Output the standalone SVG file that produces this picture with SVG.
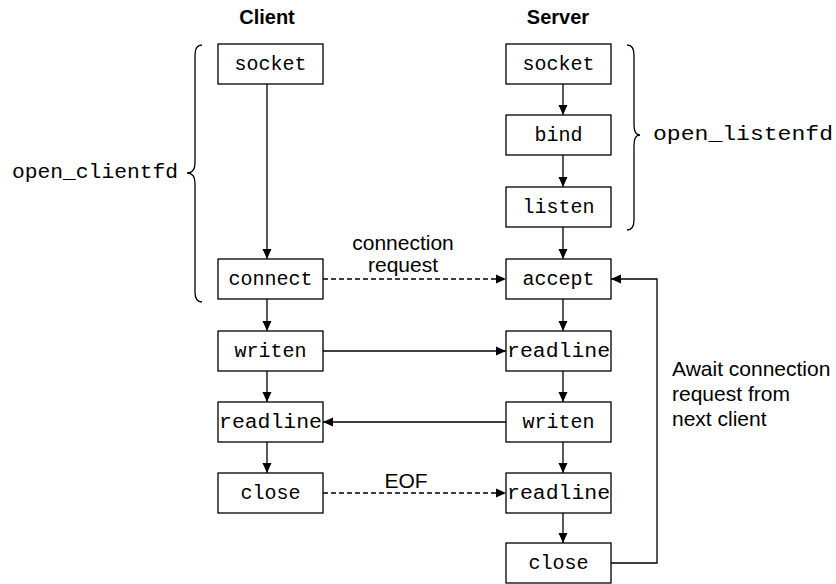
<svg xmlns="http://www.w3.org/2000/svg" width="836" height="584" viewBox="0 0 836 584">
<style>
.box{fill:#fff;stroke:#000;stroke-width:1.3}
.mono{font-family:"Liberation Mono","Courier New",monospace;font-size:20px;fill:#000}
.sans{font-family:"Liberation Sans",Arial,sans-serif;font-size:21px;fill:#000}
.hdr{font-family:"Liberation Sans",Arial,sans-serif;font-size:20px;font-weight:bold;fill:#000}
.ln{fill:none;stroke:#000;stroke-width:1.3}
.dash{stroke-dasharray:5 3}
</style>
<defs>
<marker id="ah" viewBox="0 0 10 10" refX="10" refY="5" markerWidth="10" markerHeight="10" markerUnits="userSpaceOnUse" orient="auto">
<path d="M0,0.5 L10,5 L0,9.5 Z" fill="#000"/>
</marker>
</defs>
<rect width="836" height="584" fill="#fff"/>
<text class="hdr" x="267" y="24" text-anchor="middle">Client</text>
<text class="hdr" x="558" y="24" text-anchor="middle">Server</text>

<g id="connectors">
<line class="ln" x1="267" y1="84" x2="267" y2="259" marker-end="url(#ah)"/>
<line class="ln" x1="267" y1="299" x2="267" y2="331" marker-end="url(#ah)"/>
<line class="ln" x1="267" y1="371" x2="267" y2="402" marker-end="url(#ah)"/>
<line class="ln" x1="267" y1="442" x2="267" y2="473" marker-end="url(#ah)"/>
<line class="ln" x1="563" y1="84" x2="563" y2="115" marker-end="url(#ah)"/>
<line class="ln" x1="563" y1="155" x2="563" y2="187" marker-end="url(#ah)"/>
<line class="ln" x1="563" y1="227" x2="563" y2="259" marker-end="url(#ah)"/>
<line class="ln" x1="563" y1="299" x2="563" y2="331" marker-end="url(#ah)"/>
<line class="ln" x1="563" y1="371" x2="563" y2="402" marker-end="url(#ah)"/>
<line class="ln" x1="563" y1="442" x2="563" y2="473" marker-end="url(#ah)"/>
<line class="ln" x1="563" y1="513" x2="563" y2="543" marker-end="url(#ah)"/>
<line class="ln dash" x1="323" y1="279" x2="506" y2="279" marker-end="url(#ah)"/>
<line class="ln" x1="323" y1="351" x2="506" y2="351" marker-end="url(#ah)"/>
<line class="ln" x1="506" y1="422" x2="323" y2="422" marker-end="url(#ah)"/>
<line class="ln dash" x1="323" y1="493" x2="506" y2="493" marker-end="url(#ah)"/>
<polyline class="ln" points="611,563 657,563 657,279 611,279" marker-end="url(#ah)"/>
<text class="sans" x="403" y="250" text-anchor="middle">connection</text>
<text class="sans" x="403" y="272" text-anchor="middle">request</text>
<text class="sans" x="406" y="488" text-anchor="middle">EOF</text>
<text class="sans" x="672" y="376">Await connection</text>
<text class="sans" x="672" y="401">request from</text>
<text class="sans" x="672" y="426">next client</text>
</g>

<g id="brace-client">
<path class="ln" d="M202,45 Q195,45 195,55 L195,163 Q195,173 187,173 Q195,173 195,183 L195,292 Q195,302 202,302"/>
<text class="mono" x="12" y="178" textLength="166" lengthAdjust="spacingAndGlyphs">open_clientfd</text>
</g>
<g id="brace-server">
<path class="ln" d="M627,45 Q634,45 634,55 L634,125 Q634,135 640,135 Q634,135 634,145 L634,220 Q634,230 627,230"/>
<text class="mono" x="653" y="140" textLength="180" lengthAdjust="spacingAndGlyphs">open_listenfd</text>
</g>

<g id="c-socket"><rect class="box" x="218" y="44" width="105" height="40"/><text class="mono" x="270.5" y="70" text-anchor="middle">socket</text></g>
<g id="c-connect"><rect class="box" x="218" y="259" width="105" height="40"/><text class="mono" x="270.5" y="285" text-anchor="middle">connect</text></g>
<g id="c-writen"><rect class="box" x="218" y="331" width="105" height="40"/><text class="mono" x="270.5" y="357" text-anchor="middle">writen</text></g>
<g id="c-readline"><rect class="box" x="218" y="402" width="105" height="40"/><text class="mono" x="270.5" y="428" text-anchor="middle" textLength="103" lengthAdjust="spacingAndGlyphs">readline</text></g>
<g id="c-close"><rect class="box" x="218" y="473" width="105" height="40"/><text class="mono" x="270.5" y="499" text-anchor="middle">close</text></g>

<g id="s-socket"><rect class="box" x="506" y="44" width="105" height="40"/><text class="mono" x="558.5" y="70" text-anchor="middle">socket</text></g>
<g id="s-bind"><rect class="box" x="506" y="115" width="105" height="40"/><text class="mono" x="558.5" y="141" text-anchor="middle">bind</text></g>
<g id="s-listen"><rect class="box" x="506" y="187" width="105" height="40"/><text class="mono" x="558.5" y="213" text-anchor="middle">listen</text></g>
<g id="s-accept"><rect class="box" x="506" y="259" width="105" height="40"/><text class="mono" x="558.5" y="285" text-anchor="middle">accept</text></g>
<g id="s-readline1"><rect class="box" x="506" y="331" width="105" height="40"/><text class="mono" x="558.5" y="357" text-anchor="middle" textLength="103" lengthAdjust="spacingAndGlyphs">readline</text></g>
<g id="s-writen"><rect class="box" x="506" y="402" width="105" height="40"/><text class="mono" x="558.5" y="428" text-anchor="middle">writen</text></g>
<g id="s-readline2"><rect class="box" x="506" y="473" width="105" height="40"/><text class="mono" x="558.5" y="499" text-anchor="middle" textLength="103" lengthAdjust="spacingAndGlyphs">readline</text></g>
<g id="s-close"><rect class="box" x="506" y="543" width="105" height="40"/><text class="mono" x="558.5" y="569" text-anchor="middle">close</text></g>
</svg>
